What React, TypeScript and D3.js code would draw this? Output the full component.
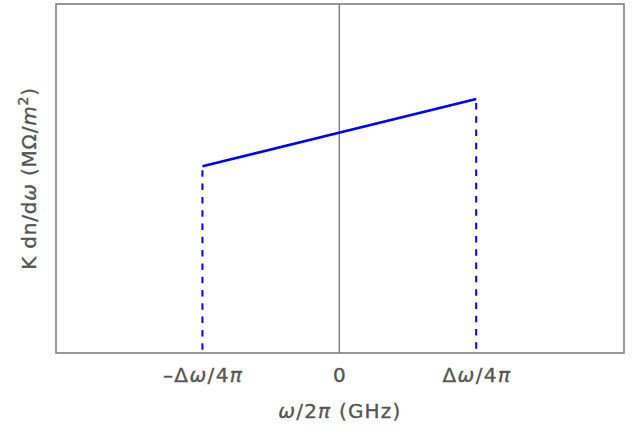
import React from "react";
import * as d3 from "d3";

// x in units of Δω/4π
const xDomain = [-2.07, 2.08];
const yDomain = [0, 1];
const lineX = [-1, 1];
const lineY = [0.535, 0.728];
const tickValues = [-1, 0, 1];
const tickLabels = ["\u2013\u0394\u03c9/4\u03c0", "0", "\u0394\u03c9/4\u03c0"];

const W = 639, H = 433;
const m = { left: 56, right: 15, top: 4, bottom: 80 };

export default function App() {
  const x = d3.scaleLinear().domain(xDomain).range([m.left, W - m.right]);
  const y = d3.scaleLinear().domain(yDomain).range([H - m.bottom, m.top]);
  const pts = lineX.map((v, i) => [x(v), y(lineY[i])] as [number, number]);
  const line = d3.line()(pts) || "";
  const gray = "#7f7f7f";
  const txt = "#555";
  const font = "'DejaVu Sans', sans-serif";
  const renderLabel = (s: string) => {
    const parts = s.split(/([\u03c9\u03c0])/);
    return parts.map((p, i) =>
      p === "\u03c9" || p === "\u03c0" ? (
        <tspan key={i} fontStyle="italic">{p}</tspan>
      ) : (
        <tspan key={i}>{p}</tspan>
      )
    );
  };
  return (
    <svg width={W} height={H} style={{ position: "absolute", left: 0, top: 0 }}>
      <rect x={0} y={0} width={W} height={H} fill="#fff" />
      <rect
        x={x(xDomain[0])}
        y={y(yDomain[1])}
        width={x(xDomain[1]) - x(xDomain[0])}
        height={y(yDomain[0]) - y(yDomain[1])}
        fill="none"
        stroke={gray}
        strokeWidth={1.6}
      />
      <line x1={x(0)} x2={x(0)} y1={y(yDomain[0])} y2={y(yDomain[1])} stroke={gray} strokeWidth={1.4} />
      {lineX.map((v, i) => (
        <line
          key={i}
          x1={x(v)}
          x2={x(v)}
          y1={y(lineY[i]) + 4}
          y2={y(0)}
          stroke="#0000ff"
          strokeWidth={2}
          strokeDasharray="6.5,6.8"
        />
      ))}
      <path d={line} fill="none" stroke="#0000ff" strokeWidth={2.6} />
      {tickValues.map((v, i) => (
        <text
          key={i}
          x={x(v) + (tickLabels[i].length > 1 ? 0.7 : 0)}
          y={382}
          textAnchor="middle"
          fontFamily={font}
          fontSize={20}
          letterSpacing={tickLabels[i].length > 1 ? 1.4 : 0}
          fill={txt}
          stroke={txt}
          strokeWidth={0.35}
        >
          {renderLabel(tickLabels[i])}
        </text>
      ))}
      <text x={x(0) + 0.6} y={418} textAnchor="middle" fontFamily={font} fontSize={20} letterSpacing={1.2} fill={txt} stroke={txt} strokeWidth={0.35}>
        <tspan fontStyle="italic">ω</tspan>/2<tspan fontStyle="italic">π</tspan> (GHz)
      </text>
      <text
        transform={`translate(36,${(y(0) + y(1)) / 2}) rotate(-90)`}
        textAnchor="middle"
        fontFamily={font}
        fontSize={20}
        letterSpacing={0.8}
        fill={txt}
        stroke={txt}
        strokeWidth={0.35}
      >
        K dn/d<tspan fontStyle="italic">ω</tspan> (MΩ/<tspan fontStyle="italic">m</tspan>
        <tspan dy={-8} fontSize={14}>2</tspan>
        <tspan dy={8}>)</tspan>
      </text>
    </svg>
  );
}
